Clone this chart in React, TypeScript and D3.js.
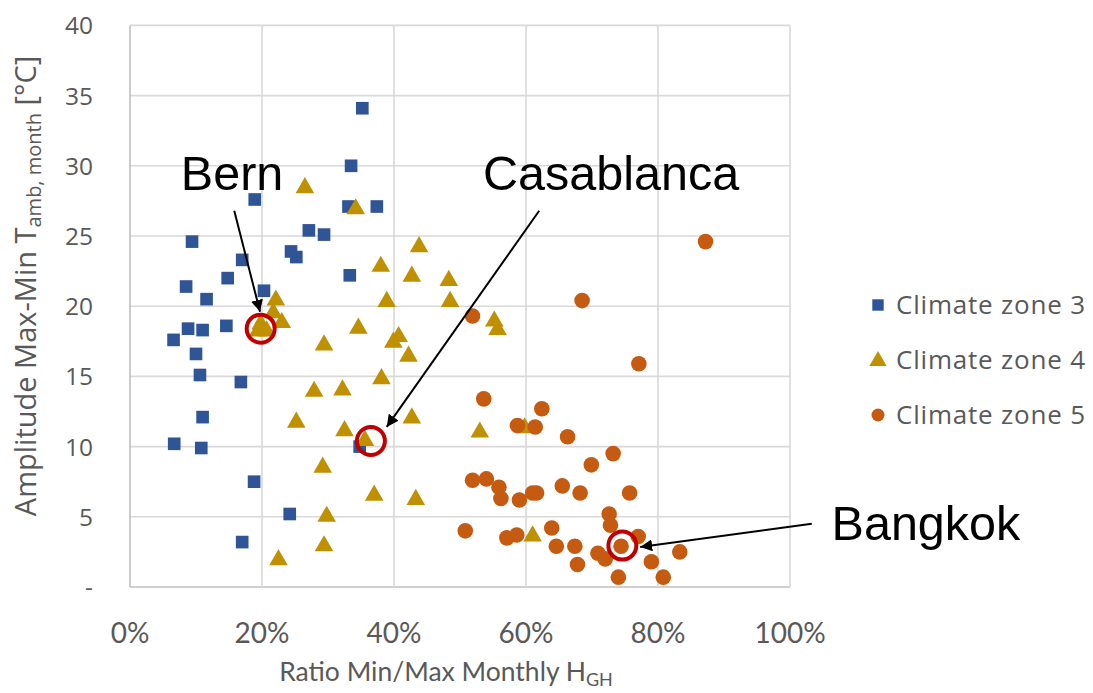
import React from "react";
import * as d3 from "d3";

const zone3: [number, number][] = [
  [0.352, 34.1], [0.335, 30.0], [0.189, 27.6], [0.331, 27.1], [0.374, 27.1], [0.094, 24.6],
  [0.271, 25.4], [0.294, 25.1], [0.244, 23.9], [0.252, 23.5], [0.170, 23.3], [0.148, 22.0],
  [0.333, 22.2], [0.085, 21.4], [0.116, 20.5], [0.203, 21.1], [0.088, 18.4], [0.110, 18.3],
  [0.146, 18.6], [0.066, 17.6], [0.100, 16.6], [0.106, 15.1], [0.168, 14.6], [0.110, 12.1],
  [0.067, 10.2], [0.108, 9.9], [0.348, 10.0], [0.188, 7.5], [0.242, 5.2], [0.170, 3.2],
];

const zone4: [number, number][] = [
  [0.265, 28.5], [0.342, 27.0], [0.438, 24.3], [0.380, 22.9], [0.427, 22.2], [0.483, 21.9],
  [0.389, 20.4], [0.485, 20.4], [0.221, 20.5], [0.217, 19.6], [0.230, 18.9], [0.198, 18.8],
  [0.194, 18.3], [0.207, 18.3], [0.346, 18.5], [0.552, 19.0], [0.557, 18.4], [0.399, 17.5],
  [0.407, 17.9], [0.294, 17.3], [0.422, 16.5], [0.381, 14.9], [0.279, 14.0], [0.322, 14.1],
  [0.252, 11.8], [0.325, 11.2], [0.356, 10.5], [0.427, 12.1], [0.530, 11.1], [0.598, 11.4],
  [0.292, 8.6], [0.370, 6.6], [0.433, 6.3], [0.298, 5.1], [0.610, 3.7], [0.294, 3.0], [0.225, 2.0],
];

const zone5: [number, number][] = [
  [0.872, 24.6], [0.685, 20.4], [0.519, 19.3], [0.771, 15.9], [0.536, 13.4], [0.624, 12.7],
  [0.587, 11.5], [0.614, 11.4], [0.663, 10.7], [0.732, 9.5], [0.699, 8.7], [0.519, 7.6],
  [0.540, 7.7], [0.559, 7.1], [0.562, 6.3], [0.590, 6.2], [0.610, 6.7], [0.616, 6.7],
  [0.655, 7.2], [0.682, 6.7], [0.757, 6.7], [0.726, 5.2], [0.728, 4.4], [0.508, 4.0],
  [0.571, 3.5], [0.586, 3.7], [0.639, 4.2], [0.646, 2.9], [0.674, 2.9], [0.678, 1.6],
  [0.709, 2.4], [0.720, 2.0], [0.744, 2.9], [0.770, 3.6], [0.790, 1.8], [0.833, 2.5],
  [0.740, 0.7], [0.808, 0.7],
];

const xTicks = [0, 0.2, 0.4, 0.6, 0.8, 1.0];
const yTicks = [0, 5, 10, 15, 20, 25, 30, 35, 40];
const legendLabels = ["Climate zone 3", "Climate zone 4", "Climate zone 5"];

// annotated cities: circle at data point, label and arrow (data coords)
const cities = [
  { name: "Bern", cx: 0.198, cy: 18.4, lx: 0.077, ly: 28.25, ax1: 0.158, ay1: 26.8, ax2: 0.197, ay2: 19.6 },
  { name: "Casablanca", cx: 0.365, cy: 10.4, lx: 0.535, ly: 28.25, ax1: 0.620, ay1: 26.8, ax2: 0.389, ay2: 11.4 },
  { name: "Bangkok", cx: 0.746, cy: 2.95, lx: 1.063, ly: 3.35, ax1: 1.033, ay1: 4.5, ax2: 0.773, ay2: 2.85 },
];

const C3 = "#2F5597";
const C4 = "#BF9000";
const C5 = "#C55A11";

export default function App() {
  const W = 1093, H = 693;
  const x = d3.scaleLinear().domain([0, 1]).range([130, 790]);
  const y = d3.scaleLinear().domain([0, 40]).range([587, 25.4]);
  const sq = d3.symbol().type(d3.symbolSquare).size(160)()!;
  const tri = d3.symbol().type(d3.symbolTriangle).size(150)()!;
  const sqL = d3.symbol().type(d3.symbolSquare).size(130)()!;
  const triL = d3.symbol().type(d3.symbolTriangle).size(130)()!;
  const fmtPct = d3.format(".0%");
  const tickFont = "'Open Sans', sans-serif";
  const titleFont = "Lato, sans-serif";

  return (
    <svg width={W} height={H} style={{ position: "absolute", left: 0, top: 0, background: "#fff" }}>
      <defs>
        <marker id="ah" viewBox="0 0 10 10" refX="10" refY="5" markerWidth="6" markerHeight="6" orient="auto" markerUnits="strokeWidth">
          <path d="M0,0 L10,5 L0,10 z" fill="#000" />
        </marker>
      </defs>
      {/* grid */}
      {yTicks.map((t) => (
        <line key={"gy" + t} x1={x(0)} x2={x(1)} y1={y(t)} y2={y(t)} stroke={t === 0 ? "#bfbfbf" : "#d9d9d9"} strokeWidth={1.6} />
      ))}
      {xTicks.map((t) => (
        <line key={"gx" + t} x1={x(t)} x2={x(t)} y1={y(0)} y2={y(40)} stroke={t === 0 ? "#bfbfbf" : "#d9d9d9"} strokeWidth={1.6} />
      ))}
      {/* y tick labels */}
      {yTicks.map((t) => (
        <text key={"yl" + t} x={93} y={y(t) + 9} textAnchor="end" fontFamily={tickFont} fontSize={24.5} fill="#595959">
          {t === 0 ? "-" : t}
        </text>
      ))}
      {/* x tick labels */}
      {xTicks.map((t) => (
        <text key={"xl" + t} x={x(t)} y={643} textAnchor="middle" fontFamily={titleFont} fontSize={28} fill="#595959">
          {fmtPct(t)}
        </text>
      ))}
      {/* axis titles */}
      <text x={446} y={681} textAnchor="middle" fontFamily={titleFont} fontSize={26.5} fill="#595959">
        Ratio Min/Max Monthly H<tspan fontSize={18} dy={5}>GH</tspan>
      </text>
      <text transform={`translate(36,${286}) rotate(-90)`} textAnchor="middle" fontFamily={tickFont} fontSize={29} fill="#595959">
        Amplitude Max-Min T<tspan fontSize={20} dy={5}>amb, month</tspan>
        <tspan dy={-5}> [°C]</tspan>
      </text>
      {/* data */}
      {zone3.map((d, i) => (
        <path key={"a" + i} d={sq} transform={`translate(${x(d[0])},${y(d[1])})`} fill={C3} />
      ))}
      {zone4.map((d, i) => (
        <path key={"b" + i} d={tri} transform={`translate(${x(d[0])},${y(d[1]) + 1})`} fill={C4} />
      ))}
      {zone5.map((d, i) => (
        <circle key={"c" + i} cx={x(d[0])} cy={y(d[1])} r={7.8} fill={C5} />
      ))}
      {/* annotations */}
      {cities.map((c) => (
        <g key={c.name}>
          <circle cx={x(c.cx)} cy={y(c.cy)} r={14} fill="none" stroke="#C00000" strokeWidth={4} />
          <line x1={x(c.ax1)} y1={y(c.ay1)} x2={x(c.ax2)} y2={y(c.ay2)} stroke="#000" strokeWidth={2} markerEnd="url(#ah)" />
          <text x={x(c.lx)} y={y(c.ly)} fontFamily="'Liberation Sans', Arial, sans-serif" fontSize={48.5} fill="#000">
            {c.name}
          </text>
        </g>
      ))}
      {/* legend */}
      {legendLabels.map((l, i) => {
        const ly = 305 + i * 55;
        return (
          <g key={l}>
            {i === 0 && <path d={sqL} transform={`translate(878,${ly})`} fill={C3} />}
            {i === 1 && <path d={triL} transform={`translate(878,${ly + 1})`} fill={C4} />}
            {i === 2 && <circle cx={878} cy={ly} r={6.5} fill={C5} />}
            <text x={896} y={ly + 9} fontFamily={tickFont} fontSize={26} letterSpacing={0.8} fill="#595959">{l}</text>
          </g>
        );
      })}
    </svg>
  );
}
